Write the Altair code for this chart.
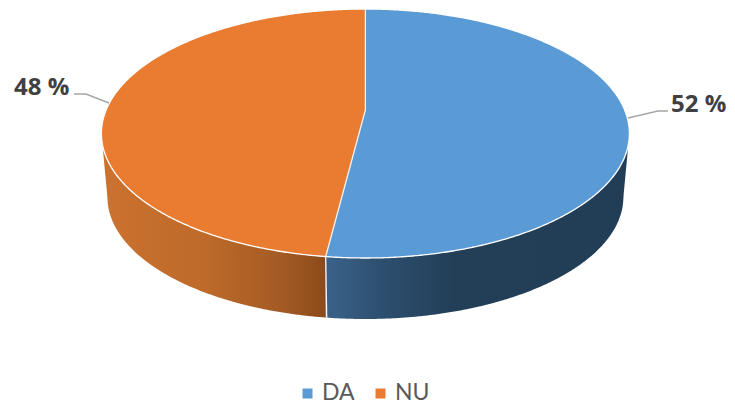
import numpy as np
import pandas as pd
import altair as alt

categories = ["DA", "NU"]
shares = [52, 48]
labels = ["52 %", "48 %"]
colors = ["#5B9BD5", "#EA7C32"]

# pie geometry, in page pixels
CX, CY, RX, RY = 365.4, 133.5, 264.0, 124.5     # top ellipse
LCX, LCY, LRX, LRY = 365.4, 197.0, 258.0, 122.0 # bottom rim
AX, AY = 365.4, 110.0                            # perspective apex
PERSPECTIVE = 1.2

theta = np.radians(shares[0] / sum(shares) * 360)
rim_x = CX + RX * np.sin(theta) * PERSPECTIVE

def top_up(x):
    return CY - RY * np.sqrt(np.clip(1 - ((x - CX) / RX) ** 2, 0, 1))

def top_down(x):
    return CY + RY * np.sqrt(np.clip(1 - ((x - CX) / RX) ** 2, 0, 1))

def low_down(x):
    inner = LCY + LRY * np.sqrt(np.clip(1 - ((x - LCX) / LRX) ** 2, 0, 1))
    left, right = LCX - LRX, LCX + LRX
    edge_l = CX - RX + 1.5
    edge_r = CX + RX - 1.5
    y = inner.copy()
    m = x < left
    y[m] = np.maximum(top_down(x[m]), CY + 16 + (LCY - CY - 16) * (x[m] - edge_l) / (left - edge_l))
    m = x > right
    y[m] = np.maximum(top_down(x[m]), CY + 16 + (LCY - CY - 16) * (edge_r - x[m]) / (edge_r - right))
    return y

rim_y = float(top_down(np.array([rim_x]))[0])

def line_y(x):
    return AY + (rim_y - AY) * (AX - x) / (AX - rim_x)

t = np.linspace(0, np.pi, 500)
xs = np.unique(np.concatenate([CX - RX * np.cos(t), [rim_x, AX]]))

# top faces
xa = xs[xs >= rim_x]
up = np.where(xa < AX, line_y(xa), top_up(xa))
blue = pd.DataFrame({"x": xa, "y": up, "y2": top_down(xa), "slice": categories[0]})
xb = xs[xs <= AX]
lo = np.where(xb > rim_x, line_y(xb), top_down(xb))
orange = pd.DataFrame({"x": xb, "y": top_up(xb), "y2": lo, "slice": categories[1]})
top = pd.concat([blue, orange])

# side walls
xw1 = xs[xs <= rim_x]
xw1 = xw1[xw1 >= CX - RX + 1.5]
wall_o = pd.DataFrame({"x": xw1, "y": top_down(xw1), "y2": low_down(xw1)})
xw2 = xs[xs >= rim_x]
xw2 = xw2[xw2 <= CX + RX - 1.5]
wall_b = pd.DataFrame({"x": xw2, "y": top_down(xw2), "y2": low_down(xw2)})

X = alt.X("x:Q", scale=alt.Scale(domain=[8, 727]), axis=None)
Y = alt.Y("y:Q", scale=alt.Scale(domain=[405, 8]), axis=None)
C = alt.Color("slice:N", scale=alt.Scale(domain=categories, range=colors), legend=None)

def gradient(stops):
    return alt.Gradient(
        gradient="linear", x1=0, x2=1, y1=0, y2=0,
        stops=[alt.GradientStop(offset=o, color=c) for o, c in stops],
    )

wall_orange = alt.Chart(wall_o).mark_area(
    color=gradient([(0, "#CB722F"), (0.45, "#BE6A2A"), (0.8, "#A35B23"), (1, "#8C4A1B")])
).encode(x=X, y=Y, y2="y2:Q")
wall_blue = alt.Chart(wall_b).mark_area(
    color=gradient([(0, "#3A6289"), (0.2, "#2C4E6E"), (0.42, "#233F58"), (1, "#223E56")])
).encode(x=X, y=Y, y2="y2:Q")

faces = alt.Chart(top).mark_area().encode(x=X, y=Y, y2="y2:Q", color=C)

# white edges
rim = pd.concat([
    pd.DataFrame({"x": xs, "y": top_down(xs), "g": "front"}),
    pd.DataFrame({"x": xs, "y": top_up(xs), "g": "back"}),
])
edges = alt.Chart(rim).mark_line(color="white", strokeWidth=1.3).encode(x=X, y=Y, detail="g:N")

spoke = pd.DataFrame({
    "x": [AX, AX, rim_x, rim_x + 1], "y": [top_up(np.array([AX]))[0], AY, rim_y, LCY + LRY - 1],
    "i": [0, 1, 2, 3],
})
spokes = alt.Chart(spoke).mark_line(color="#F4F4F4", strokeWidth=1.3).encode(
    x=X, y=Y, order="i:Q"
)

# leader lines
leader = pd.DataFrame({
    "x": [628, 658, 668, 74, 86, 109],
    "y": [118, 111, 111, 94, 94, 103],
    "g": ["DA"] * 3 + ["NU"] * 3,
    "i": [0, 1, 2, 0, 1, 2],
})
leaders = alt.Chart(leader).mark_line(color="#A6A6A6", strokeWidth=1.4).encode(
    x=X, y=Y, detail="g:N", order="i:Q"
)

text_df = pd.DataFrame({"x": [671, 14], "y": [112, 95], "t": labels})
texts = alt.Chart(text_df).mark_text(
    font="Open Sans", fontSize=24, fontWeight="bold", color="#404040", align="left", baseline="alphabetic"
).encode(x=X, y=Y, text="t:N")

# legend row
key_df = pd.DataFrame({"x": [307.5, 380.5], "y": [393.5, 393.5], "slice": categories})
keys = alt.Chart(key_df).mark_square(size=100, opacity=1).encode(x=X, y=Y, color=C)
key_text_df = pd.DataFrame({"x": [322, 395], "y": [399.5, 399.5], "t": categories})
key_texts = alt.Chart(key_text_df).mark_text(
    font="Lato", fontSize=23, color="#595959", align="left", baseline="alphabetic"
).encode(x=X, y=Y, text="t:N")

chart = alt.layer(
    wall_orange, wall_blue, faces, edges, spokes, leaders, texts, keys, key_texts
).properties(
    width=719, height=397, padding=0, autosize=alt.AutoSizeParams(type="none"), background="white"
).configure_view(stroke=None)

chart.save("out.html", embed_options={"renderer": "svg", "actions": False})
